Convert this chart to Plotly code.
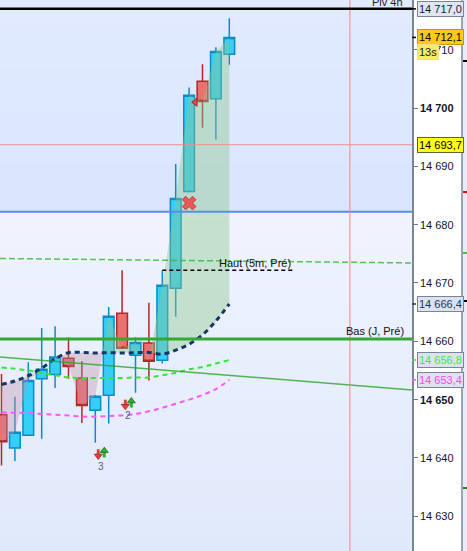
import numpy as np
import plotly.graph_objects as go

# ---------------- data ----------------
bars = list(range(18))
opens  = [14647.4, 14641.7, 14643.9, 14653.6, 14654.3, 14657.1, 14653.7, 14648.2, 14650.75,
          14664.8, 14657.6, 14659.7, 14656.75, 14669.1, 14685.7, 14704.6, 14701.6, 14709.2]
highs  = [14654.4, 14650.5, 14656.4, 14662.3, 14662.6, 14660.7, 14656.6, 14650.8, 14665.9,
          14672.2, 14660.7, 14666.6, 14672.1, 14690.4, 14703.5, 14707.5, 14710.4, 14715.4]
lows   = [14638.7, 14639.5, 14643.8, 14643.3, 14652.0, 14653.6, 14646.0, 14642.6, 14645.9,
          14658.8, 14651.2, 14653.3, 14656.2, 14664.2, 14685.5, 14696.6, 14694.6, 14707.4]
closes = [14642.8, 14644.4, 14653.3, 14655.2, 14657.3, 14655.7, 14649.0, 14650.6, 14664.3,
          14658.8, 14659.8, 14656.6, 14669.6, 14684.5, 14702.2, 14701.1, 14709.7, 14712.1]

vwap = [14652.6, 14653.2, 14654.1, 14655.4, 14657.0, 14658.05, 14658.1, 14658.0, 14658.05,
        14658.0, 14658.05, 14658.1, 14657.8, 14658.5, 14659.5, 14661.1, 14663.5, 14666.4]
ma_green = [14655.5, 14655.3, 14655.0, 14654.6, 14654.2, 14653.8, 14653.7, 14653.7, 14653.7,
            14653.7, 14653.8, 14653.8, 14654.2, 14654.6, 14655.2, 14655.6, 14656.2, 14656.8]
ma_magenta = [14647.8, 14647.75, 14647.7, 14647.55, 14647.4, 14647.3, 14647.1, 14647.1, 14647.2,
              14647.3, 14647.55, 14648.0, 14648.6, 14649.3, 14650.0, 14650.8, 14651.8, 14653.4]

piv_4h = 14717.0
level_red = 14693.7
level_blue = 14682.2
bas_j = 14660.4
haut_5m = 14672.2
haut_5m_x = [12, 21.75]
green_dash_x = [0, 26]
green_dash_y = [14674.2, 14673.55]
trend_x = [0, 26]
trend_y = [14657.3, 14652.5]
vline_bar = 26

cross_x, cross_y = [14], [14683.7]
tri_x, tri_y = [14.46], [14701.0]
sig_down_x = [7.22, 9.24]
sig_down_tip = [14639.9, 14648.45]
sig_down_tail = [14641.5, 14650.0]
sig_up_x = [7.67, 9.69]
sig_up_tip = [14641.7, 14650.2]
sig_up_tail = [14640.1, 14648.65]
sig_num_x = [7.43, 9.44]
sig_num_y = [14638.6, 14647.3]
sig_num_text = ["3", "2"]

tick_vals = [14630, 14640, 14650, 14660, 14670, 14680, 14690, 14700, 14710]
tick_text = ["14 630", "14 640", "<b>14 650</b>", "14 660", "14 670", "14 680", "14 690",
             "<b>14 700</b>", "14 710"]

X_RANGE = [-0.112, 30.634]
Y_RANGE = [14624.05, 14718.52]

# ---------------- figure ----------------
fig = go.Figure()

def runs_between(xs, a, b):
    runs = []
    cur = [(xs[0], a[0], b[0])]
    sign = 1 if a[0] - b[0] >= 0 else -1
    for i in range(len(xs) - 1):
        d0 = a[i] - b[i]
        d1 = a[i + 1] - b[i + 1]
        if d0 * d1 < 0:
            t = d0 / (d0 - d1)
            xc = xs[i] + t * (xs[i + 1] - xs[i])
            yc = a[i] + t * (a[i + 1] - a[i])
            cur.append((xc, yc, yc))
            runs.append((sign, cur))
            cur = [(xc, yc, yc)]
            sign = 1 if d1 > 0 else -1
        cur.append((xs[i + 1], a[i + 1], b[i + 1]))
    runs.append((sign, cur))
    return runs

for sign, pts in runs_between(bars, closes, vwap):
    px = [p[0] for p in pts] + [p[0] for p in reversed(pts)]
    py = [p[1] for p in pts] + [p[2] for p in reversed(pts)]
    fig.add_trace(go.Scatter(
        x=px, y=py, mode="lines", fill="toself", line=dict(width=0),
        fillcolor="rgba(140,200,140,0.42)" if sign > 0 else "rgba(190,140,165,0.36)",
        hoverinfo="skip", showlegend=False))

def extend(xp, yp):
    slope = (yp[1] - yp[0]) / (xp[1] - xp[0])
    return [X_RANGE[0], X_RANGE[1]], [yp[0] + slope * (X_RANGE[0] - xp[0]),
                                      yp[0] + slope * (X_RANGE[1] - xp[0])]

gx, gy = extend(green_dash_x, green_dash_y)
fig.add_trace(go.Scatter(x=gx, y=gy, mode="lines",
                         line=dict(color="rgba(60,185,60,0.85)", width=1.5, dash="6px,3px"),
                         hoverinfo="skip", showlegend=False))

fig.add_trace(go.Scatter(x=bars, y=ma_magenta, mode="lines", line_shape="spline",
                         line=dict(color="#ff55ff", width=2, dash="5px,4px"),
                         hoverinfo="skip", showlegend=False))
fig.add_trace(go.Scatter(x=bars, y=ma_green, mode="lines", line_shape="spline",
                         line=dict(color="#33e833", width=2, dash="5px,4px"),
                         hoverinfo="skip", showlegend=False))

fig.add_trace(go.Candlestick(
    x=bars, open=opens, high=highs, low=lows, close=closes,
    increasing=dict(line=dict(color="#0a8cc8", width=1.5), fillcolor="#36cdf6"),
    decreasing=dict(line=dict(color="#b02828", width=1.5), fillcolor="#ec7070"),
    whiskerwidth=0, showlegend=False, hoverinfo="skip"))

fig.add_trace(go.Scatter(x=bars, y=vwap, mode="lines", line_shape="spline",
                         line=dict(color="#143866", width=3, dash="5px,4px"),
                         hoverinfo="skip", showlegend=False))

tx, ty = extend(trend_x, trend_y)
fig.add_trace(go.Scatter(x=tx, y=ty, mode="lines",
                         line=dict(color="rgba(40,165,40,0.8)", width=1.5),
                         hoverinfo="skip", showlegend=False))

fig.add_trace(go.Scatter(x=haut_5m_x, y=[haut_5m, haut_5m], mode="lines",
                         line=dict(color="black", width=1.5, dash="4px,3px"),
                         hoverinfo="skip", showlegend=False))

fig.add_trace(go.Scatter(x=cross_x, y=cross_y, mode="markers",
                         marker=dict(symbol="x", size=12, color="#e85a5a",
                                     line=dict(color="#c03c3c", width=1)),
                         hoverinfo="skip", showlegend=False))
fig.add_trace(go.Scatter(x=tri_x, y=tri_y, mode="markers",
                         marker=dict(symbol="triangle-left", size=7, color="#e65050",
                                     line=dict(color="#a02020", width=1)),
                         hoverinfo="skip", showlegend=False))

# signal arrows: stem line + triangle head
PX_PER_UNIT = 551.0 / (Y_RANGE[1] - Y_RANGE[0])
head_off = 2.6 / PX_PER_UNIT
for xs_, tips, tails, col, dark, sym, direction in [
        (sig_down_x, sig_down_tip, sig_down_tail, "#e84040", "#9a2020", "triangle-down", -1),
        (sig_up_x, sig_up_tip, sig_up_tail, "#30b030", "#1a6a1a", "triangle-up", 1)]:
    for x_, tip, tail in zip(xs_, tips, tails):
        hc = tip - direction * head_off
        fig.add_trace(go.Scatter(x=[x_, x_], y=[tail, hc], mode="lines",
                                 line=dict(color=col, width=3),
                                 hoverinfo="skip", showlegend=False))
        fig.add_trace(go.Scatter(x=[x_], y=[hc], mode="markers",
                                 marker=dict(symbol=sym, size=7, color=col,
                                             line=dict(color=dark, width=0.8)),
                                 hoverinfo="skip", showlegend=False))

# ---------------- shapes ----------------
shapes = []
top_c = np.array([248, 250, 255])
bot_c = np.array([224, 233, 251])
nb = 40
for k in range(nb):
    f = (k + 0.5) / nb
    c = top_c + (bot_c - top_c) * f
    shapes.append(dict(type="rect", xref="paper", yref="paper", x0=0, x1=1,
                       y0=1 - (k + 1) / nb, y1=1 - k / nb + 0.001, layer="below",
                       line=dict(width=0),
                       fillcolor="rgb(%d,%d,%d)" % tuple(c.round().astype(int))))
shapes.append(dict(type="rect", xref="paper", yref="y", x0=0, x1=1,
                   y0=level_blue, y1=Y_RANGE[1], layer="below", line=dict(width=0),
                   fillcolor="rgba(100,150,255,0.15)"))
shapes.append(dict(type="line", xref="paper", yref="y", x0=0, x1=1, y0=level_blue, y1=level_blue,
                   line=dict(color="#5a8cf0", width=2), layer="above"))
shapes.append(dict(type="line", xref="paper", yref="y", x0=0, x1=1, y0=level_red, y1=level_red,
                   line=dict(color="#f08c8c", width=1), layer="above"))
shapes.append(dict(type="line", xref="x", yref="paper", x0=vline_bar, x1=vline_bar, y0=0, y1=1,
                   line=dict(color="#f08888", width=1), layer="above"))
shapes.append(dict(type="line", xref="paper", yref="y", x0=0, x1=1, y0=piv_4h, y1=piv_4h,
                   line=dict(color="black", width=2.5), layer="above"))
shapes.append(dict(type="line", xref="paper", yref="y", x0=0, x1=1, y0=bas_j, y1=bas_j,
                   line=dict(color="#32aa32", width=3), layer="above"))

px_ = 1 / 412.0
shapes.append(dict(type="rect", xref="paper", yref="paper", x0=463 * px_, x1=470 * px_,
                   y0=0, y1=1, line=dict(width=0), fillcolor="#e4ebfb", layer="below"))
shapes.append(dict(type="line", xref="paper", yref="paper", x0=462 * px_, x1=462 * px_,
                   y0=0, y1=1, line=dict(color="#7a8696", width=1.5)))
for yy, col in [(61, "black"), (301, "black"), (192, "red"), (253, "#33cc33"), (488, "#1a8a1a")]:
    shapes.append(dict(type="line", xref="paper", yref="paper", x0=463 * px_, x1=470 * px_,
                       y0=1 - yy / 551.0, y1=1 - yy / 551.0, line=dict(color=col, width=2)))

for val, col in [(piv_4h, "black"), (closes[-1], "black"), (vwap[-1], "#143866"),
                 (ma_green[-1], "#33e833"), (ma_magenta[-1], "#ff55ff")]:
    shapes.append(dict(type="line", xref="paper", yref="y", x0=1.0, x1=1.0 + 4 * px_,
                       y0=val, y1=val, line=dict(color=col, width=1.5)))

# ---------------- annotations ----------------
ann = []
FONT = "Liberation Sans, Arial, sans-serif"

def fmt(v):
    s = "%.1f" % v
    ip, dp = s.split(".")
    return ip[:-3] + " " + ip[-3:] + "," + dp

labels = [
    (piv_4h, "#dfe6f2", "#7a8496", "#1a1a3a"),
    (closes[-1], "#ffc81e", "#c89600", "#000000"),
    (level_red, "#ffff14", "#646432", "#000000"),
    (vwap[-1], "#dce3ef", "#7a8496", "#143866"),
    (ma_green[-1], "#dce3ef", "#7a8496", "#3ce83c"),
    (ma_magenta[-1], "#dce3ef", "#7a8496", "#ff44ff"),
]
for v, bg, bc, tc in labels:
    ann.append(dict(xref="paper", yref="y", x=1.0 + 4.5 * px_, y=v, text=fmt(v),
                    xanchor="left", yanchor="middle", showarrow=False,
                    font=dict(family=FONT, size=11, color=tc),
                    bgcolor=bg, bordercolor=bc, borderwidth=1, borderpad=1))
ann.append(dict(xref="paper", yref="y", x=1.0 + 4.5 * px_, y=closes[-1], yshift=-15,
                text="13s", xanchor="left", yanchor="middle", showarrow=False,
                font=dict(family=FONT, size=11, color="#202020"),
                bgcolor="#fbeb64", bordercolor="#f0dc78", borderwidth=1, borderpad=1))

ann.append(dict(xref="x", yref="y", x=30.1, y=Y_RANGE[1] - 0.3, text="Piv 4h",
                xanchor="right", yanchor="middle", showarrow=False,
                font=dict(family=FONT, size=11, color="#202030")))
ann.append(dict(xref="x", yref="y", x=haut_5m_x[1], y=haut_5m + 1.2, text="Haut (5m, Pré)",
                xanchor="right", yanchor="middle", showarrow=False,
                font=dict(family=FONT, size=11, color="#101010")))
ann.append(dict(xref="x", yref="y", x=30.19, y=bas_j + 1.3, text="Bas (J, Pré)",
                xanchor="right", yanchor="middle", showarrow=False,
                font=dict(family=FONT, size=11, color="#101010")))
for i in range(len(sig_num_x)):
    ann.append(dict(xref="x", yref="y", x=sig_num_x[i], y=sig_num_y[i], text=sig_num_text[i],
                    showarrow=False, font=dict(family=FONT, size=10, color="#5a5a78")))

fig.update_layout(
    width=467, height=551, autosize=False,
    margin=dict(l=0, r=55, t=0, b=0, pad=0),
    paper_bgcolor="white", plot_bgcolor="#eef3fd",
    showlegend=False, boxgap=0.2, boxgroupgap=0,
    shapes=shapes, annotations=ann,
    xaxis=dict(range=X_RANGE, visible=False, rangeslider=dict(visible=False),
               showgrid=False, zeroline=False, fixedrange=True),
    yaxis=dict(range=Y_RANGE, side="right", tickmode="array", tickvals=tick_vals,
               ticktext=tick_text, ticks="outside", ticklen=4, tickwidth=1,
               tickcolor="#6a7686", showgrid=False, zeroline=False,
               showline=True, linecolor="#7a8696", linewidth=1.5,
               tickfont=dict(family=FONT, size=11, color="#141428"), fixedrange=True),
    font=dict(family=FONT),
)

fig.write_html("out.html", config={"displayModeBar": False},
               post_script="document.body.style.margin='0';document.body.style.overflow='hidden';")
